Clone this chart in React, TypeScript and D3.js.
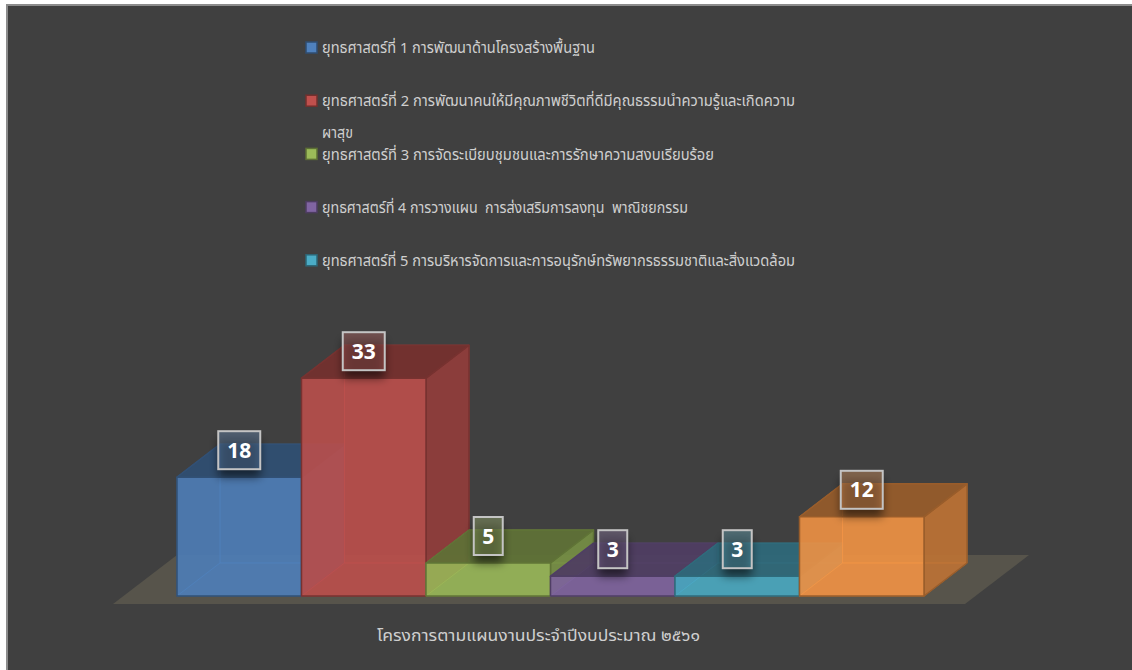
import React from 'react';
import * as d3 from 'd3';

const categories = ['s1', 's2', 's3', 's4', 's5', 's6'];
const values = [18, 33, 5, 3, 3, 12];
const colors = ['#4f81bd', '#c0504d', '#9bbb59', '#8064a2', '#4bacc6', '#f79646'];
const legendLabels = [
  ['ยุทธศาสตร์ที่ 1 การพัฒนาด้านโครงสร้างพื้นฐาน'],
  ['ยุทธศาสตร์ที่ 2 การพัฒนาคนให้มีคุณภาพชีวิตที่ดีมีคุณธรรมนำความรู้และเกิดความ', 'ผาสุข'],
  ['ยุทธศาสตร์ที่ 3 การจัดระเบียบชุมชนและการรักษาความสงบเรียบร้อย'],
  ['ยุทธศาสตร์ที่ 4 การวางแผน  การส่งเสริมการลงทุน  พาณิชยกรรม'],
  ['ยุทธศาสตร์ที่ 5 การบริหารจัดการและการอนุรักษ์ทรัพยากรธรรมชาติและสิ่งแวดล้อม'],
];
const axisTitle = 'โครงการตามแผนงานประจำปีงบประมาณ ๒๕๖๑';
const yMax = 35;

// layout (not data)
const legendLineWidths = [[273], [473, 31], [392], [366], [473]];
const axisTitleWidth = 323;

const W = 1132;
const H = 670;
const plotLeft = 177;
const plotRight = 924;
const baseY = 596;
const topY = 365;
const DX = 43;
const DY = -33;
const THAI = "'Noto Sans Thai', 'Noto Sans', 'DejaVu Sans', sans-serif";

function shade(c: string, k: number) {
  const col = d3.rgb(c);
  return d3.rgb(col.r * k, col.g * k, col.b * k).formatHex();
}

const pts = (p: number[][]) => p.map((q) => q.join(',')).join(' ');

export default function App() {
  const x = d3.scaleBand<string>().domain(categories).range([plotLeft, plotRight]).padding(0);
  const y = d3.scaleLinear().domain([0, yMax]).range([baseY, topY]);

  const floor = [
    [plotLeft - 64, baseY + 8],
    [plotRight + 41, baseY + 8],
    [plotRight + 41 + 64, baseY + 8 - 49],
    [plotLeft, baseY + 8 - 49],
  ];

  return (
    <svg width={W} height={H} style={{ position: 'absolute', left: 0, top: 0 }}>
      <defs>
        <filter id="lblShadow" x="-50%" y="-50%" width="200%" height="220%">
          <feGaussianBlur in="SourceAlpha" stdDeviation="5" />
          <feOffset dx="0" dy="8" result="b" />
          <feComponentTransfer>
            <feFuncA type="linear" slope="0.55" />
          </feComponentTransfer>
        </filter>
      </defs>
      <rect x={0} y={0} width={W} height={H} fill="#ffffff" />
      <rect x={7} y={5} width={W + 10} height={H + 10} fill="#404040" stroke="#8c8c8c" strokeWidth={2} />

      {/* legend */}
      <g fontFamily={THAI} fontSize={15} fill="#cfcfcf">
        {legendLabels.map((lines, i) => {
          const cy = 48 + i * 53.2;
          return (
            <g key={i}>
              <rect x={306} y={cy - 6} width={11} height={11} fill={colors[i]} stroke={shade(colors[i], 0.6)} strokeWidth={1.5} />
              {lines.map((t, j) => (
                <text
                  key={j}
                  x={322}
                  y={cy + j * 32}
                  dy="0.35em"
                  textLength={legendLineWidths[i][j]}
                  lengthAdjust="spacingAndGlyphs"
                  style={{ whiteSpace: 'pre' }}
                >
                  {t}
                </text>
              ))}
            </g>
          );
        })}
      </g>

      {/* floor */}
      <polygon points={pts(floor)} fill="#57544b" />

      {/* bars */}
      {categories.map((c, i) => {
        const x0 = x(c)!;
        const x1 = x0 + x.bandwidth();
        const yt = y(values[i]);
        const yb = y(0);
        const col = colors[i];
        const edge = shade(col, 0.62);
        const back = [[x0 + DX, yt + DY], [x1 + DX, yt + DY], [x1 + DX, yb + DY], [x0 + DX, yb + DY]];
        const left = [[x0, yt], [x0 + DX, yt + DY], [x0 + DX, yb + DY], [x0, yb]];
        const bottom = [[x0, yb], [x1, yb], [x1 + DX, yb + DY], [x0 + DX, yb + DY]];
        const right = [[x1, yt], [x1 + DX, yt + DY], [x1 + DX, yb + DY], [x1, yb]];
        const top = [[x0, yt], [x1, yt], [x1 + DX, yt + DY], [x0 + DX, yt + DY]];
        const front = [[x0, yt], [x1, yt], [x1, yb], [x0, yb]];
        return (
          <g key={c} strokeLinejoin="round">
            <polygon points={pts(back)} fill={shade(col, 0.75)} fillOpacity={0.5} stroke={col} strokeOpacity={0.5} strokeWidth={1} />
            <polygon points={pts(left)} fill={shade(col, 0.7)} fillOpacity={0.4} stroke={col} strokeOpacity={0.5} strokeWidth={1} />
            <polygon points={pts(bottom)} fill={shade(col, 0.8)} fillOpacity={0.4} stroke={col} strokeOpacity={0.5} strokeWidth={1} />
            <polygon points={pts(right)} fill={shade(col, 0.76)} fillOpacity={0.85} stroke={edge} strokeWidth={1.5} />
            <polygon points={pts(top)} fill={shade(col, 0.6)} fillOpacity={0.88} stroke={edge} strokeWidth={1.5} />
            <polygon points={pts(front)} fill={col} fillOpacity={0.82} stroke={edge} strokeWidth={1.5} />
          </g>
        );
      })}

      {/* labels */}
      {categories.map((c, i) => {
        const cx = x(c)! + x.bandwidth() / 2;
        const cy = y(values[i]) - 27;
        const label = String(values[i]);
        const bw = label.length > 1 ? 42 : 29;
        const bh = 38;
        return (
          <g key={'l' + c}>
            <rect x={cx - bw / 2} y={cy - bh / 2} width={bw} height={bh} fill="#000" filter="url(#lblShadow)" />
            <rect x={cx - bw / 2} y={cy - bh / 2} width={bw} height={bh} fill={colors[i]} fillOpacity={0.3} />
            <rect x={cx - bw / 2} y={cy - bh / 2} width={bw} height={bh} fill="#ffffff" fillOpacity={0.07} stroke="#c4c4c4" strokeWidth={2} />
            <text x={cx} y={cy} dy="0.36em" textAnchor="middle" fontFamily="'Open Sans', 'Liberation Sans', sans-serif" fontWeight={700} fontSize={21} fill="#ffffff">
              {label}
            </text>
          </g>
        );
      })}

      <text
        x={377}
        y={635}
        dy="0.35em"
        fontFamily={THAI}
        fontSize={16}
        fill="#cfcfcf"
        textLength={axisTitleWidth}
        lengthAdjust="spacingAndGlyphs"
      >
        {axisTitle}
      </text>
    </svg>
  );
}
